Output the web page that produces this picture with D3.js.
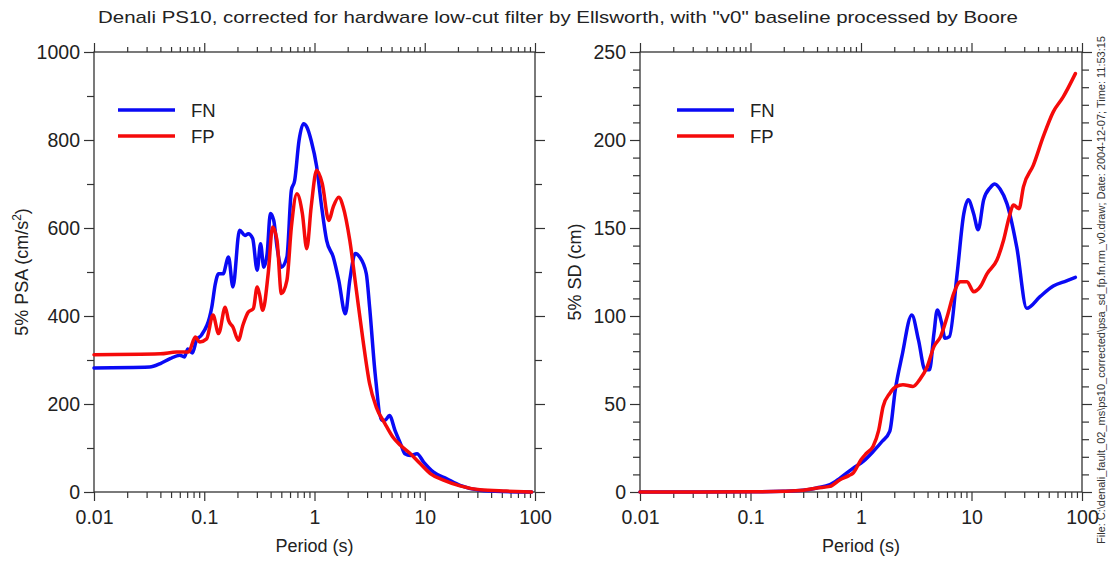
<!DOCTYPE html>
<html>
<head>
<meta charset="utf-8">
<script src="https://cdn.jsdelivr.net/npm/d3@7"></script>
<style>
  body { margin: 0; background: #fff; }
  svg { font-family: "Liberation Sans", Arial, sans-serif; }
  .tick text { fill: #222; }
  .tick line { stroke: #333; stroke-width: 1.2; }
  .frame { fill: none; stroke: #333; stroke-width: 1.3; }
  .series { fill: none; stroke-width: 3.5; stroke-linejoin: round; stroke-linecap: round; }
</style>
</head>
<body>
<svg id="chart" width="1110" height="562"></svg>
<script>
// periods (s) and values
var psaFnPeriod = [0.01, 0.032, 0.040, 0.049, 0.060, 0.066, 0.071, 0.078, 0.085, 0.094, 0.117, 0.126, 0.135, 0.148, 0.166, 0.182, 0.209, 0.234, 0.251, 0.275, 0.302, 0.324, 0.347, 0.372, 0.398, 0.427, 0.457, 0.501, 0.562, 0.617, 0.661, 0.724, 0.794, 0.851, 0.933, 1.047, 1.161, 1.288, 1.479, 1.660, 1.905, 2.089, 2.344, 2.570, 2.951, 3.162, 3.548, 4.074, 4.365, 4.786, 5.370, 6.026, 6.607, 7.413, 8.511, 9.772, 12.02, 15.85, 20.89, 31.62, 51.29, 93.3]
var psaFn = [282, 284, 292, 303, 311, 307, 325, 316, 345, 356, 420, 473, 496, 496, 534, 466, 595, 583, 587, 576, 504, 564, 511, 542, 633, 617, 557, 511, 534, 686, 708, 799, 837, 830, 799, 739, 648, 572, 534, 481, 405, 481, 542, 534, 496, 420, 269, 163, 163, 174, 140, 110, 87, 83, 87, 68, 45, 30, 15, 4, 1, 0]

var psaFpPeriod = [0.01, 0.040, 0.056, 0.072, 0.083, 0.091, 0.105, 0.120, 0.135, 0.155, 0.166, 0.182, 0.204, 0.224, 0.251, 0.279, 0.302, 0.316, 0.339, 0.380, 0.417, 0.457, 0.501, 0.562, 0.617, 0.692, 0.776, 0.851, 0.933, 1.047, 1.175, 1.349, 1.479, 1.660, 1.820, 2.089, 2.399, 2.754, 3.162, 3.631, 4.365, 5.129, 6.026, 7.413, 9.120, 11.22, 14.79, 20.89, 31.62, 54.95, 93.3]
var psaFp = [312, 314, 318, 318, 352, 341, 348, 402, 360, 420, 390, 375, 345, 379, 409, 417, 466, 451, 413, 496, 602, 572, 451, 481, 602, 678, 633, 553, 648, 731, 701, 617, 648, 670, 648, 572, 458, 345, 246, 193, 155, 125, 106, 87, 64, 42, 27, 14, 5, 2, 0]

var sdFnPeriod = [0.01, 0.1, 0.2, 0.3, 0.398, 0.525, 0.646, 0.851, 1.047, 1.288, 1.549, 1.820, 2.042, 2.344, 2.884, 3.311, 3.802, 4.169, 4.571, 4.898, 5.370, 5.754, 6.310, 7.413, 8.511, 9.333, 10.47, 11.48, 12.88, 14.79, 16.22, 18.20, 20.89, 25.70, 31.62, 41.69, 54.95, 72.44, 87.10]
var sdFn = [0, 0.1, 0.4, 1.0, 2.3, 4.2, 7.9, 13.6, 17.4, 23, 28.7, 34.4, 58, 77, 100.6, 86.4, 69.4, 69.4, 90, 103.4, 96, 87.4, 88.3, 124, 158, 166, 158, 149, 166, 173, 175, 172, 164, 139, 104.4, 111, 117, 120, 122]

var sdFpPeriod = [0.01, 0.1, 0.2, 0.3, 0.398, 0.525, 0.646, 0.776, 0.851, 1.0, 1.122, 1.288, 1.445, 1.585, 1.820, 2.089, 2.399, 2.951, 3.388, 3.981, 4.571, 5.248, 6.026, 6.918, 7.943, 9.120, 10.47, 12.02, 13.80, 16.98, 19.50, 21.88, 23.99, 26.92, 29.51, 36.31, 44.67, 54.95, 67.61, 87.10]
var sdFp = [0, 0.1, 0.4, 1.0, 2.3, 3.2, 7, 9.3, 10.8, 18.3, 22, 26, 35, 48.6, 56, 60, 61, 60, 63.7, 71.3, 82.6, 88.3, 99.7, 113, 119.5, 119.5, 113.8, 116.7, 124, 131.8, 143, 156, 163, 161, 173.4, 185.7, 202, 216, 224.5, 237.7]

var xTicks = [0.01, 0.1, 1, 10, 100]
var xTickLabels = ['0.01', '0.1', '1', '10', '100']
var psaTicks = [0, 200, 400, 600, 800, 1000]
var sdTicks = [0, 50, 100, 150, 200, 250]
var seriesNames = ['FN', 'FP']
var seriesColors = ['#0a0af5', '#f50a0a']

var title = 'Denali PS10, corrected for hardware low-cut filter by Ellsworth, with "v0" baseline processed by Boore'
var fileNote = 'File: C:\\denali_fault_02_ms\\ps10_corrected\\psa_sd_fp.fn.rm_v0.draw; Date: 2004-12-07; Time: 11:53:15'

var svg = d3.select('#chart')

svg.append('text')
  .attr('x', 98)
  .attr('y', 23)
  .attr('textLength', 920)
  .attr('lengthAdjust', 'spacingAndGlyphs')
  .style('font-size', '17px')
  .style('fill', '#222')
  .text(title)

svg.append('text')
  .attr('transform', 'translate(1105,290) rotate(-90)')
  .attr('text-anchor', 'middle')
  .attr('textLength', 508)
  .attr('lengthAdjust', 'spacingAndGlyphs')
  .style('font-size', '10px')
  .style('fill', '#333')
  .text(fileNote)

function minorLog (domain) {
  var out = []
  for (var e = Math.log10(domain[0]); e < Math.log10(domain[1]); e++) {
    for (var k = 2; k <= 9; k++) out.push(k * Math.pow(10, e))
  }
  return out
}

function drawPanel (opts) {
  var w = opts.right - opts.left
  var h = opts.bottom - opts.top
  var g = svg.append('g').attr('transform', `translate(${opts.left},${opts.top})`)

  var x = d3.scaleLog().domain([0.01, 100]).range([0, w])
  var y = d3.scaleLinear().domain([0, opts.ymax]).range([h, 0])

  var yMinor = d3.range(0, opts.ymax + 0.001, opts.minorStep).filter(v => opts.yTicks.indexOf(v) < 0)
  var xMinor = minorLog([0.01, 100])

  // bottom
  g.append('g').attr('transform', `translate(0,${h})`)
    .call(d3.axisBottom(x).tickValues(xMinor).tickFormat('').tickSize(6))
  g.append('g').attr('transform', `translate(0,${h})`)
    .call(d3.axisBottom(x).tickValues(xTicks).tickFormat((d, i) => xTickLabels[i]).tickSize(9).tickPadding(9))
    .selectAll('text').style('font-size', '19.5px')
  // top
  g.append('g').call(d3.axisTop(x).tickValues(xMinor).tickFormat('').tickSize(5))
  g.append('g').call(d3.axisTop(x).tickValues(xTicks).tickFormat('').tickSize(9))
  // left
  g.append('g').call(d3.axisLeft(y).tickValues(yMinor).tickFormat('').tickSize(7))
  g.append('g').call(d3.axisLeft(y).tickValues(opts.yTicks).tickFormat(d3.format('d')).tickSize(10).tickPadding(4))
    .selectAll('text').style('font-size', '19.5px')
  // right
  g.append('g').attr('transform', `translate(${w},0)`)
    .call(d3.axisRight(y).tickValues(yMinor).tickFormat('').tickSize(7))
  g.append('g').attr('transform', `translate(${w},0)`)
    .call(d3.axisRight(y).tickValues(opts.yTicks).tickFormat('').tickSize(10))

  g.selectAll('.domain').remove()
  g.selectAll('.tick line').style('stroke', '#333')

  g.append('rect').attr('class', 'frame').attr('width', w).attr('height', h)

  var line = d3.line()
    .x(d => x(d[0]))
    .y(d => y(d[1]))
    .curve(d3.curveMonotoneX)

  opts.series.forEach(function (s, i) {
    g.append('path')
      .attr('class', 'series')
      .attr('d', line(d3.zip(s.period, s.value)))
      .style('stroke', seriesColors[i])
  })

  // legend
  seriesNames.forEach(function (name, i) {
    var ly = 58 + i * 26
    g.append('line')
      .attr('x1', opts.legendX).attr('x2', opts.legendX + 57)
      .attr('y1', ly).attr('y2', ly)
      .style('stroke', seriesColors[i]).style('stroke-width', 3.5)
    g.append('text')
      .attr('x', opts.legendX + 73).attr('y', ly)
      .attr('dy', '0.36em')
      .style('font-size', '18.5px')
      .style('fill', '#222')
      .text(name)
  })

  // axis labels
  g.append('text')
    .attr('x', w / 2).attr('y', h + 60)
    .attr('text-anchor', 'middle')
    .style('font-size', '18px')
    .style('fill', '#222')
    .text('Period (s)')

  var yl = g.append('text')
    .attr('transform', `translate(${opts.ylabelX},${h / 2}) rotate(-90)`)
    .attr('text-anchor', 'middle')
    .style('font-size', '18px')
    .style('fill', '#222')
  opts.ylabel.forEach(function (part) {
    var t = yl.append('tspan').text(part.t)
    if (part.sup) t.attr('baseline-shift', 'super').style('font-size', '12px')
  })
}

drawPanel({
  left: 94, right: 535, top: 52, bottom: 492,
  ymax: 1000, yTicks: psaTicks, minorStep: 100,
  legendX: 24, ylabelX: -66,
  ylabel: [{t: '5% PSA (cm/s'}, {t: '2', sup: true}, {t: ')'}],
  series: [{period: psaFnPeriod, value: psaFn}, {period: psaFpPeriod, value: psaFp}]
})

drawPanel({
  left: 640, right: 1082, top: 52, bottom: 492,
  ymax: 250, yTicks: sdTicks, minorStep: 10,
  legendX: 37, ylabelX: -59,
  ylabel: [{t: '5% SD (cm)'}],
  series: [{period: sdFnPeriod, value: sdFn}, {period: sdFpPeriod, value: sdFp}]
})
</script>
</body>
</html>
